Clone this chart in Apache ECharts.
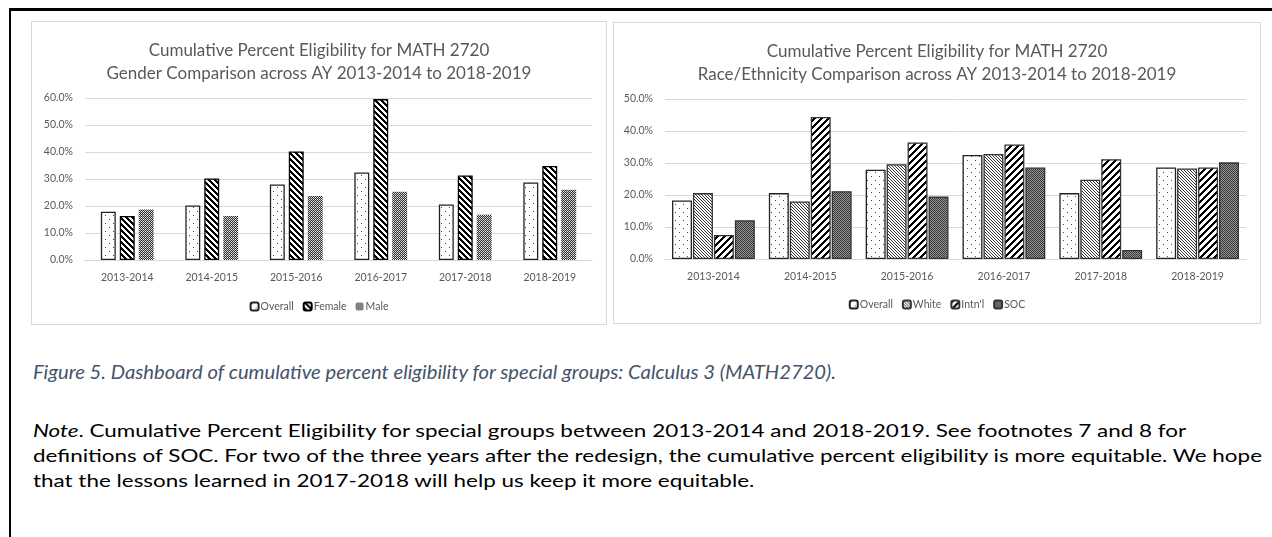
<!DOCTYPE html>
<html>
<head>
<meta charset="utf-8">
<script src="https://cdn.jsdelivr.net/npm/echarts@6/dist/echarts.min.js"></script>
<style>
  html, body { margin: 0; padding: 0; background: #fff; }
  body { width: 1272px; height: 537px; position: relative; overflow: hidden; font-family: Lato, "Open Sans", sans-serif; }
  #frame { position: absolute; left: 9px; top: 8px; right: -4px; bottom: -4px; border-top: 3px solid #000; border-left: 2px solid #000; z-index: 10; pointer-events: none; }
  .panel { position: absolute; border: 1px solid #d9d9d9; box-sizing: border-box; }
  #gender { left: 31px; top: 21px; width: 576px; height: 304px; }
  #race { left: 613px; top: 22px; width: 648px; height: 302px; }
  .line { position: absolute; left: 33px; white-space: nowrap; transform-origin: 0 50%; }
  #cap { top: 360px; font-size: 19px; font-style: italic; color: #44546a; }
  .note { font-size: 18px; color: #000; }
</style>
</head>
<body>
<div id="frame"></div>
<div id="gender" class="panel"></div>
<div id="race" class="panel"></div>

<div id="cap" class="line">Figure 5. Dashboard of cumulative percent eligibility for special groups: Calculus 3 (MATH2720).</div>
<div class="line note" style="top:419px"><i>Note</i>. Cumulative Percent Eligibility for special groups between 2013-2014 and 2018-2019. See footnotes 7 and 8 for</div>
<div id="wide" class="line note" style="top:444px">definitions of SOC. For two of the three years after the redesign, the cumulative percent eligibility is more equitable. We hope</div>
<div class="line note" style="top:469px">that the lessons learned in 2017-2018 will help us keep it more equitable.</div>

<script>
// 学年
const years = ['2013-2014', '2014-2015', '2015-2016', '2016-2017', '2017-2018', '2018-2019']

// 性别对比 (%)
const genderOverall = [17.9, 20.2, 28.0, 32.4, 20.6, 28.7]
const genderFemale = [16.3, 30.2, 40.2, 59.6, 31.3, 34.8]
const genderMale = [18.7, 16.3, 23.7, 25.3, 16.8, 26.0]

// 种族对比 (%)
const raceOverall = [18.3, 20.6, 27.9, 32.5, 20.6, 28.6]
const raceWhite = [20.6, 18.0, 29.6, 32.8, 24.8, 28.3]
const raceIntl = [7.5, 44.4, 36.4, 35.8, 31.2, 28.6]
const raceSoc = [12.1, 21.2, 19.5, 28.6, 2.8, 30.2]

// 填充图案
const makePattern = (size, pick) => {
  const c = document.createElement('canvas')
  c.width = c.height = size
  const ctx = c.getContext('2d')
  const img = ctx.createImageData(size, size)
  for (let y = 0; y < size; y++) {
    for (let x = 0; x < size; x++) {
      const v = pick(x, y)
      const i = (y * size + x) * 4
      img.data[i] = img.data[i + 1] = img.data[i + 2] = v
      img.data[i + 3] = 255
    }
  }
  ctx.putImageData(img, 0, 0)
  return {image: c, repeat: 'repeat'}
}
const mod = (a, n) => ((a % n) + n) % n

const dots = makePattern(8, (x, y) => (x === 1 && y === 1) || (x === 5 && y === 5) ? 70 : 255)
const thickBack = makePattern(6, (x, y) => mod(x - y, 6) < 3 ? 0 : 255)
const lightCheck = makePattern(4, (x, y) => (x + y) % 2 ? 50 : (x % 2 ? 235 : 185))
const thinBack = makePattern(3, (x, y) => mod(x - y, 3) === 0 ? 50 : 255)
const thickFwd = makePattern(7, (x, y) => mod(x + y, 7) < 3 ? 0 : 255)
const darkCheck = makePattern(2, (x, y) => (x + y) % 2 ? 55 : 150)

const textColor = '#595959'
const font = 'Lato, "Open Sans", sans-serif'

const buildOption = (title, max, gridLeft, gap, catGap, legendBottom, series) => ({
  animation: false,
  title: {
    text: title,
    left: 'center',
    top: 12,
    textStyle: {color: textColor, fontSize: 17, fontWeight: 'normal', lineHeight: 23, fontFamily: font},
  },
  legend: {
    bottom: legendBottom,
    left: 'center',
    itemWidth: 8,
    itemHeight: 8,
    itemGap: 9,
    textStyle: {color: textColor, fontSize: 10.5, fontFamily: font, padding: [0, 0, 0, -3]},
  },
  grid: {left: gridLeft, right: 14, top: 76, bottom: 64},
  xAxis: {
    type: 'category',
    data: years,
    axisTick: {show: false},
    axisLine: {lineStyle: {color: '#d9d9d9', width: 1}},
    axisLabel: {color: textColor, fontSize: 10.5, margin: 12, fontFamily: font},
  },
  yAxis: {
    type: 'value',
    min: 0,
    max: max,
    interval: 10,
    axisLabel: {color: textColor, fontSize: 10.5, margin: 12, fontFamily: font, formatter: v => v.toFixed(1) + '%'},
    splitLine: {lineStyle: {color: '#d9d9d9', width: 1}},
  },
  series: series.map(s => ({
    type: 'bar',
    name: s.name,
    data: s.data,
    barGap: gap,
    barCategoryGap: catGap,
    itemStyle: {color: s.color, borderColor: s.border || '#000', borderWidth: s.bw === undefined ? 1.3 : s.bw},
  })),
})

const genderChart = echarts.init(document.getElementById('gender'))
genderChart.setOption(buildOption(
  'Cumulative Percent Eligibility for MATH 2720\nGender Comparison across AY 2013-2014 to 2018-2019',
  60, 53, '27%', '37.5%', 7,
  [
    {name: 'Overall', data: genderOverall, color: dots, border: '#222'},
    {name: 'Female', data: genderFemale, color: thickBack},
    {name: 'Male', data: genderMale, color: lightCheck, bw: 0},
  ]
))

const raceChart = echarts.init(document.getElementById('race'))
raceChart.setOption(buildOption(
  'Cumulative Percent Eligibility for MATH 2720\nRace/Ethnicity Comparison across AY 2013-2014 to 2018-2019',
  50, 51, '5%', '14.5%', 8,
  [
    {name: 'Overall', data: raceOverall, color: dots, border: '#222'},
    {name: 'White', data: raceWhite, color: thinBack, border: '#333'},
    {name: "Intn'l", data: raceIntl, color: thickFwd, border: '#333'},
    {name: 'SOC', data: raceSoc, color: darkCheck, border: '#333'},
  ]
))

// 文本宽度对齐: 标题行 803px, 注释行以最宽一行 1229px 为准
const fit = (el, w) => w / el.getBoundingClientRect().width
const cap = document.getElementById('cap')
cap.style.transform = 'scaleX(' + fit(cap, 803) + ')'
const noteScale = fit(document.getElementById('wide'), 1229)
document.querySelectorAll('.note').forEach(el => {
  el.style.transform = 'scaleX(' + noteScale + ')'
})
</script>
</body>
</html>
